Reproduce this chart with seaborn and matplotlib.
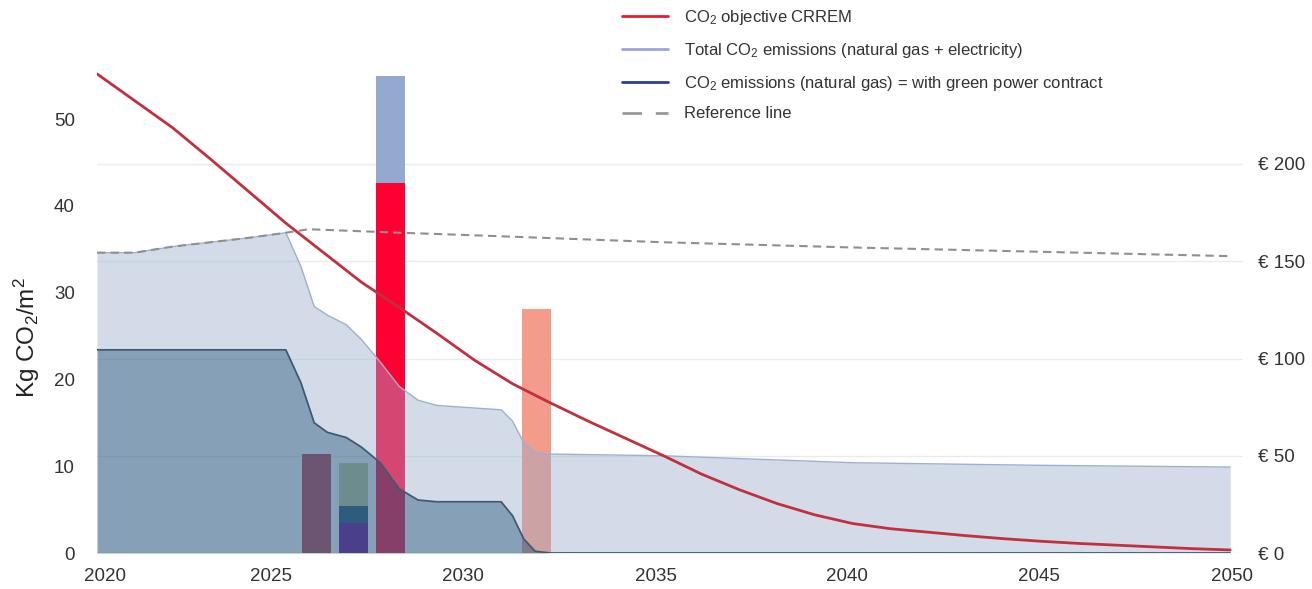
import numpy as np
import matplotlib.pyplot as plt
import seaborn as sns
from matplotlib.lines import Line2D

# CO2 objective CRREM (kg CO2/m2)
crrem_years = [2020, 2021, 2022, 2023, 2024, 2025, 2026, 2027, 2028, 2029, 2030,
               2031, 2032, 2033, 2034, 2035, 2036, 2037, 2038, 2039, 2040,
               2041, 2042, 2043, 2044, 2045, 2046, 2047, 2048, 2049, 2050]
crrem_vals = [55.2, 52.1, 49.0, 45.4, 41.7, 38.0, 34.6, 31.2, 28.3, 25.3, 22.2,
              19.5, 17.3, 15.2, 13.2, 11.2, 9.1, 7.3, 5.7, 4.4, 3.4,
              2.8, 2.4, 2.0, 1.65, 1.35, 1.1, 0.9, 0.7, 0.5, 0.35]

# emissions (kg CO2/m2)
em_years = [2020, 2021, 2022, 2023, 2024, 2025, 2025.4, 2025.75, 2026.1, 2026.6,
            2027, 2027.5, 2028, 2028.5, 2029, 2030, 2030.7, 2031, 2031.3, 2031.6,
            2032, 2035, 2040, 2045, 2050]
total_em = [34.6, 34.6, 35.3, 35.8, 36.3, 36.9, 33.0, 28.4, 27.4, 26.3,
            24.6, 22.0, 19.2, 17.6, 17.0, 16.7, 16.5, 15.2, 12.7, 11.6,
            11.4, 11.2, 10.4, 10.1, 9.9]
gas_em = [23.4, 23.4, 23.4, 23.4, 23.4, 23.4, 19.6, 15.0, 13.9, 13.3,
          12.2, 10.4, 7.4, 6.1, 5.9, 5.9, 5.9, 4.3, 1.6, 0.2,
          0.0, 0.0, 0.0, 0.0, 0.0]

# reference line
ref_years = [2020, 2021, 2022, 2023, 2024, 2025, 2025.6, 2028, 2030, 2035, 2040, 2045, 2050]
ref_vals = [34.6, 34.6, 35.3, 35.8, 36.3, 36.9, 37.3, 36.9, 36.6, 35.8, 35.2, 34.7, 34.2]

# cost bars (EUR), stacked segments
bar_years = [2025.82, 2026.79, 2027.77, 2031.64]
bar_seg1 = [51.0, 15.6, 190.4, 125.4]
bar_seg2 = [0.0, 8.6, 54.8, 0.0]
bar_seg3 = [0.0, 22.2, 0.0, 0.0]

xtick_labels = ['2020', '2025', '2030', '2035', '2040', '2045', '2050']
xtick_pos = [2020.2, 2024.6, 2029.7, 2034.8, 2039.85, 2044.95, 2050.05]
left_ticks = [0, 10, 20, 30, 40, 50]
right_ticks = [0, 50, 100, 150, 200]

sns.set_theme(style='white')
plt.rcParams['font.family'] = ['Liberation Sans', 'DejaVu Sans']
plt.rcParams['mathtext.fontset'] = 'custom'
plt.rcParams['mathtext.rm'] = 'Liberation Sans'
plt.rcParams['mathtext.it'] = 'Liberation Sans'
txt = '#333333'

fig = plt.figure(figsize=(13.12, 5.89), dpi=100)
ax = fig.add_axes([97 / 1312, 36 / 589, 1146 / 1312, 548 / 589])
ax2 = ax.twinx()
ax2.set_zorder(ax.get_zorder() - 1)
ax.patch.set_visible(False)

# bars under the areas
c1 = ['#BB3A49', '#660089', '#FF0033', '#F39C8B']
c2 = ['#BB3A49', '#1A4C6E', '#93A9CF', '#F39C8B']
c3 = ['#BB3A49', '#C2CA93', '#93A9CF', '#F39C8B']
w = 0.77
b1 = np.array(bar_seg1)
b2 = np.array(bar_seg2)
b3 = np.array(bar_seg3)
ax2.bar(bar_years, b1, width=w, color=c1, linewidth=0)
ax2.bar(bar_years, b2, bottom=b1, width=w, color=c2, linewidth=0)
ax2.bar(bar_years, b3, bottom=b1 + b2, width=w, color=c3, linewidth=0)

ax2.set_ylim(0, 548 / 1.945)
ax2.set_yticks(right_ticks)
ax2.set_yticklabels([f'€ {v}' for v in right_ticks])
ax2.yaxis.grid(True, color='#ebebeb', linewidth=1)
ax2.tick_params(axis='y', length=0, pad=11, labelsize=13.5, labelcolor=txt)

# emission areas
ax.fill_between(em_years, gas_em, total_em, color='#96ABCA', alpha=0.42, linewidth=0)
ax.fill_between(em_years, 0, gas_em, color='#3A668B', alpha=0.62, linewidth=0)
sns.lineplot(x=em_years, y=total_em, ax=ax, color='#9FAFD0', linewidth=1.0)
sns.lineplot(x=em_years, y=gas_em, ax=ax, color='#3F5B70', linewidth=1.3)

sns.lineplot(x=ref_years, y=ref_vals, ax=ax, color='#8f8f8f', linewidth=1.5)
ax.lines[-1].set_dashes([4, 2.5])
sns.lineplot(x=crrem_years, y=crrem_vals, ax=ax, color='#C2303F', linewidth=2.0)

ax.set_xlim(2020, 2050.34)
ax.set_ylim(0, 548 / 8.68)
ax.set_yticks(left_ticks)
ax.set_xticks(xtick_pos)
ax.set_xticklabels(xtick_labels)
ax.tick_params(axis='both', length=0, labelsize=13.5, labelcolor=txt)
ax.tick_params(axis='y', pad=16)
ax.tick_params(axis='x', pad=11)
ax.set_xlabel('')
ax.set_ylabel('')
for a in (ax, ax2):
    for s in a.spines.values():
        s.set_visible(False)

fig.text(27 / 1312, 1 - 338 / 589, 'Kg CO$_\\mathrm{2}$/m$^\\mathrm{2}$', rotation=90,
         ha='center', va='center', fontsize=17.5, color='#222222')

handles = [
    Line2D([], [], color='#E3202C', linewidth=2),
    Line2D([], [], color='#9BA6D6', linewidth=2),
    Line2D([], [], color='#2A3F94', linewidth=2),
    Line2D([], [], color='#999999', linewidth=2, dashes=(7, 5)),
]
labels = [
    'CO$_\\mathrm{2}$ objective CRREM',
    'Total CO$_\\mathrm{2}$ emissions (natural gas + electricity)',
    'CO$_\\mathrm{2}$ emissions (natural gas) = with green power contract',
    'Reference line',
]
fig.legend(handles, labels, loc='upper left', bbox_to_anchor=(622 / 1312, 1 - 8 / 589),
           frameon=False, fontsize=12, handlelength=2.75, handletextpad=1.0,
           labelspacing=0.83, borderpad=0, borderaxespad=0, labelcolor=txt)

plt.savefig('out.png', dpi=100)
